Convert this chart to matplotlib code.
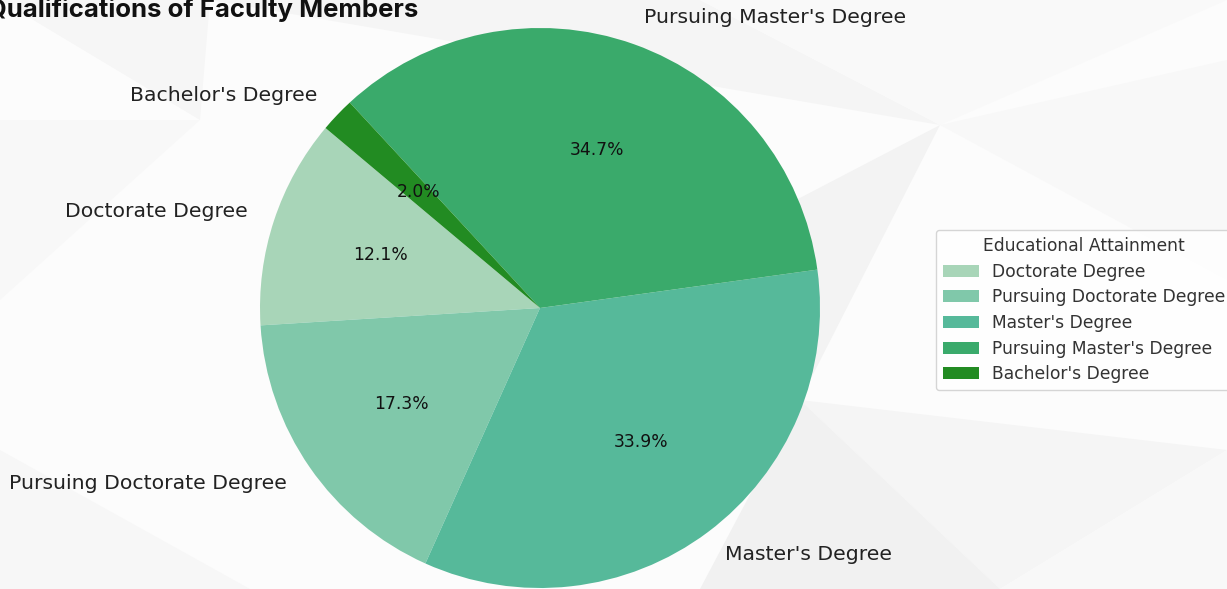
import matplotlib
matplotlib.use("Agg")
import matplotlib.pyplot as plt
from matplotlib.patches import Polygon

categories = ["Doctorate Degree", "Pursuing Doctorate Degree", "Master's Degree",
              "Pursuing Master's Degree", "Bachelor's Degree"]
shares = [12.1, 17.3, 33.9, 34.7, 2.0]
colors = ["#a8d5b8", "#80c8aa", "#56b99a", "#3aaa6b", "#228b22"]
title = "Qualifications of Faculty Members"
legend_title = "Educational Attainment"

W, H = 1227, 589
fig = plt.figure(figsize=(W / 100, H / 100), dpi=100)
fig.patch.set_facecolor("#fcfcfc")

# faint low-poly background decoration
bg = fig.add_axes([0, 0, 1, 1])
bg.set_xlim(0, W)
bg.set_ylim(H, 0)
bg.axis("off")
polys = [
    ([(0, 0), (210, 0), (200, 120)], "#f6f6f6"),
    ([(210, 0), (700, 0), (940, 125)], "#f5f5f5"),
    ([(700, 0), (1227, 0), (940, 125)], "#f9f9f9"),
    ([(940, 125), (1227, 60), (1227, 280)], "#f8f8f8"),
    ([(700, 250), (940, 125), (800, 400)], "#f3f3f3"),
    ([(800, 400), (1227, 450), (1000, 589)], "#f5f5f5"),
    ([(700, 589), (800, 400), (1000, 589)], "#f1f1f1"),
    ([(0, 300), (200, 120), (0, 120)], "#f8f8f8"),
    ([(0, 450), (250, 589), (0, 589)], "#f7f7f7"),
    ([(1000, 589), (1227, 450), (1227, 589)], "#f8f8f8"),
]
for verts, c in polys:
    bg.add_patch(Polygon(verts, closed=True, facecolor=c, edgecolor="none"))

cx, cy, r = 540, 308, 280
ax = fig.add_axes([(cx - r) / W, (H - cy - r) / H, 2 * r / W, 2 * r / H])
wedges, texts, autotexts = ax.pie(
    shares, labels=categories, colors=colors, autopct="%1.1f%%",
    startangle=140, counterclock=True, labeldistance=1.1, pctdistance=0.6,
    textprops=dict(fontsize=14.7, color="#222222"),
)
for t in autotexts:
    t.set_fontsize(12.3)
    t.set_color("#111111")
ax.set_xlim(-1, 1)
ax.set_ylim(-1, 1)
ax.set_aspect("equal")
ax.axis("off")

leg = fig.legend(wedges, categories, title=legend_title, loc="upper left",
                 bbox_to_anchor=(936 / W, 1 - 230 / H), borderaxespad=0,
                 fontsize=12.3, title_fontsize=12.3, frameon=True, borderpad=0.4,
                 handlelength=2.1, handletextpad=0.75, labelspacing=0.45)
leg.get_frame().set_edgecolor("#cccccc")
leg.get_frame().set_facecolor("white")
for t in leg.get_texts():
    t.set_color("#333333")
leg.get_title().set_color("#333333")

fig.text(-13 / W, 1 - 17 / H, title, fontsize=18.5, fontweight="bold",
         family=["Inter", "DejaVu Sans"], ha="left", va="baseline", color="#111111")

fig.savefig("out.png", dpi=100, facecolor=fig.get_facecolor())
